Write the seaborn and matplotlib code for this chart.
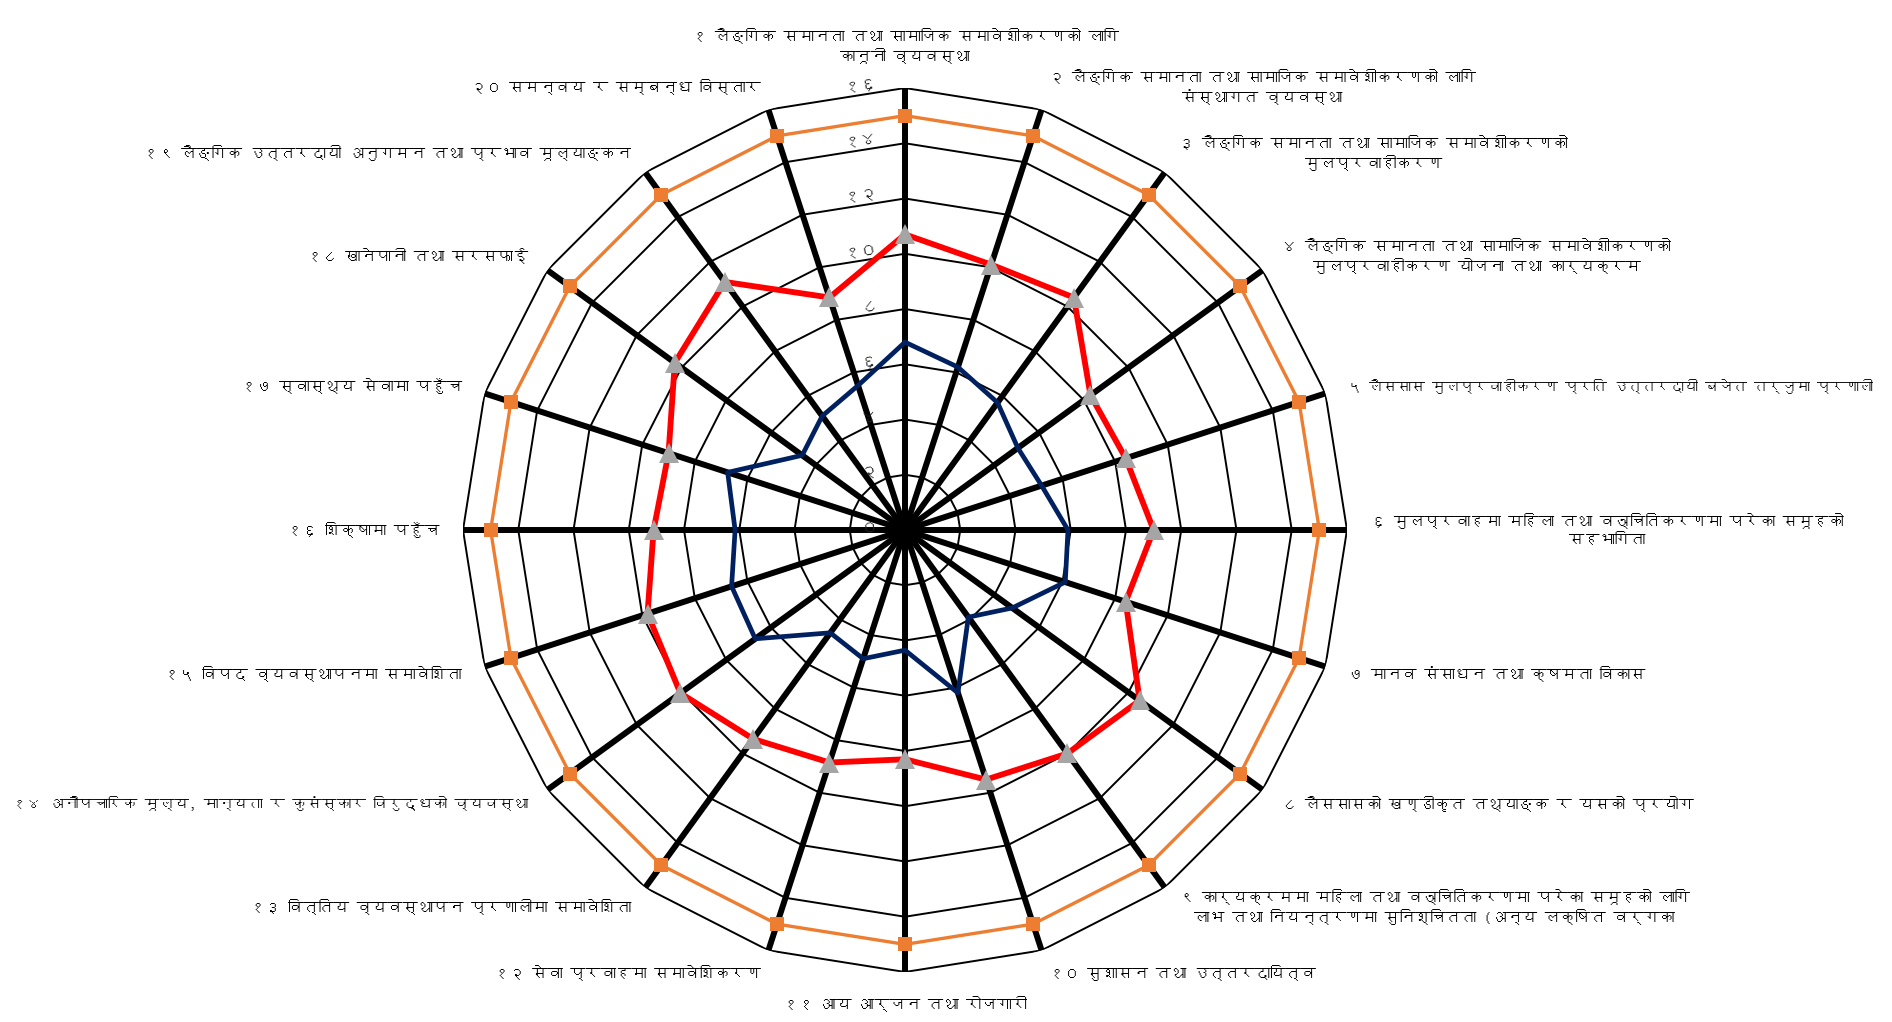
import numpy as np
import pandas as pd
import matplotlib
matplotlib.use("Agg")
import matplotlib.pyplot as plt
import seaborn as sns
from matplotlib import font_manager as fm
from matplotlib.ft2font import FT2Font

# ---------------- data ----------------
categories = [
    "१ लैङ्गिक समानता तथा सामाजिक समावेशीकरणको लागि\nकानूनी व्यवस्था",
    "२ लैङ्गिक समानता तथा सामाजिक समावेशीकरणको लागि\nसंस्थागत व्यवस्था",
    "३ लैङ्गिक समानता तथा सामाजिक समावेशीकरणको\nमुलप्रवाहीकरण",
    "४ लैङ्गिक समानता तथा सामाजिक समावेशीकरणको\nमुलप्रवाहीकरण योजना तथा कार्यक्रम",
    "५ लैससास मुलप्रवाहीकरण प्रति उत्तरदायी बजेत तर्जुमा प्रणाली",
    "६ मुलप्रवाहमा महिला तथा वञ्चितिकरणमा परेका समूहको\nसहभागिता",
    "७ मानव संसाधन तथा क्षमता विकास",
    "८ लैससासको खण्डीकृत तथ्याङ्क र यसको प्रयोग",
    "९ कार्यक्रममा महिला तथा वञ्चितिकरणमा परेका समूहको लागि\nलाभ तथा नियन्त्रणमा सुनिश्चितता (अन्य लक्षित वर्गका",
    "१० सुशासन तथा उत्तरदायित्व",
    "११ आय आर्जन तथा रोजगारी",
    "१२ सेवा प्रवाहमा समावेशिकरण",
    "१३ वित्तिय व्यवस्थापन प्रणालीमा समावेशिता",
    "१४ अनौपचारिक मूल्य, मान्यता र कुसंस्कार विरुद्धको व्यवस्था",
    "१५ विपद व्यवस्थापनमा समावेशिता",
    "१६ शिक्षामा पहुँच",
    "१७ स्वास्थ्य सेवामा पहुँच",
    "१८ खानेपानी तथा सरसफाई",
    "१९ लैङ्गिक उत्तरदायी अनुगमन तथा प्रभाव मूल्याङ्कन",
    "२० समन्वय र सम्बन्ध विस्तार",
]

full_score = [15, 15, 15, 15, 15, 15, 15, 15, 15, 15,
              15, 15, 15, 15, 15, 15, 15, 15, 15, 15]
red_score = [10.7, 10.1, 10.4, 8.3, 8.4, 9.0, 8.4, 10.5, 10.0, 9.5,
             8.3, 8.85, 9.35, 10.05, 9.8, 9.1, 9.0, 10.3, 11.1, 8.85]
blue_score = [6.8, 6.2, 5.7, 5.05, 5.2, 5.9, 6.1, 4.8, 3.9, 6.2,
              4.35, 4.9, 4.6, 6.7, 6.6, 6.15, 6.75, 4.6, 5.1, 5.5]

tick_values = [0, 2, 4, 6, 8, 10, 12, 14, 16]
tick_labels = ["०", "२", "४", "६", "८", "१०", "१२", "१४", "१६"]

# ---------------- fonts ----------------
sns.set_style("white")

def find_devanagari_font():
    for f in sorted(fm.findSystemFonts()):
        try:
            ft = FT2Font(f)
            if ft.get_char_index(ord("क")) and ft.get_char_index(ord("१")):
                return fm.FontProperties(fname=f).get_name(), f
        except Exception:
            continue
    return None, None

deva_name, deva_file = find_devanagari_font()
if deva_file:
    fm.fontManager.addfont(deva_file)
    families = [deva_name, "DejaVu Sans"]
else:
    families = ["DejaVu Sans"]
plt.rcParams["font.family"] = families

# ---------------- figure ----------------
W, H = 1892, 1022
fig = plt.figure(figsize=(W / 100, H / 100), dpi=100)
cx, cy, R = 905, 530, 442
ax = fig.add_axes([(cx - R) / W, 1 - (cy + R) / H, 2 * R / W, 2 * R / H],
                  projection="polar")
ax.set_theta_zero_location("N")
ax.set_theta_direction(-1)

n = len(categories)
theta = np.linspace(0, 2 * np.pi, n, endpoint=False)
theta_c = np.append(theta, theta[0] + 2 * np.pi)

# polygon rings
for v in tick_values[1:]:
    ax.plot(theta_c, [v] * (n + 1), color="black", lw=1.4, zorder=1)
# spokes
for t in theta:
    ax.plot([t, t], [0, 16], color="black", lw=4.3, zorder=2,
            solid_capstyle="butt")

def close(vals):
    return np.append(vals, vals[0])

df_full = pd.DataFrame({"theta": theta_c, "value": close(full_score)})
df_red = pd.DataFrame({"theta": theta_c, "value": close(red_score)})
df_blue = pd.DataFrame({"theta": theta_c, "value": close(blue_score)})

sns.lineplot(data=df_full, x="theta", y="value", sort=False, ax=ax,
             color="#ED7D31", lw=2.4, marker="s", markersize=9.5,
             markeredgewidth=0, markerfacecolor="#ED7D31", zorder=4,
             estimator=None)
sns.lineplot(data=df_red, x="theta", y="value", sort=False, ax=ax,
             color="#FF0000", lw=4.2, zorder=5, estimator=None)
sns.lineplot(data=df_red.iloc[:-1], x="theta", y="value", sort=False, ax=ax,
             color="#A5A5A5", lw=0, marker="^", markersize=14,
             markeredgewidth=0, markerfacecolor="#A5A5A5", zorder=6,
             estimator=None)
sns.lineplot(data=df_blue, x="theta", y="value", sort=False, ax=ax,
             color="#002060", lw=3.4, zorder=5, estimator=None)

ax.set_ylim(0, 16)
ax.set_xlabel("")
ax.set_ylabel("")
ax.set_xticks([])
ax.set_yticks([])
ax.grid(False)
ax.spines["polar"].set_visible(False)
ax.set_facecolor("none")

# radial tick labels along the top spoke
for v, lab in zip(tick_values, tick_labels):
    ax.annotate(lab, xy=(0, v), xytext=(-26, 2), textcoords="offset pixels",
                ha="right", va="center", fontsize=12.5, rotation=9,
                color="#222222", zorder=3)

# category labels
d = 24
label_size = {4: 10.1, 13: 10.6}
for i, (t, lab) in enumerate(zip(theta, categories)):
    s, c = np.sin(t), np.cos(t)
    if s > 0.1:
        ha = "left"
    elif s < -0.1:
        ha = "right"
    else:
        ha = "center"
    if abs(s) <= 0.1:
        va = "bottom" if c > 0 else "top"
    else:
        va = "center"
    fs = label_size.get(i, 11)
    ax.annotate(lab, xy=(t, 16), xytext=(d * s, d * c),
                textcoords="offset pixels", ha=ha, va=va,
                multialignment="center", fontsize=fs, color="black",
                annotation_clip=False, linespacing=1.3)

fig.savefig("out.png", dpi=100, facecolor="white")
